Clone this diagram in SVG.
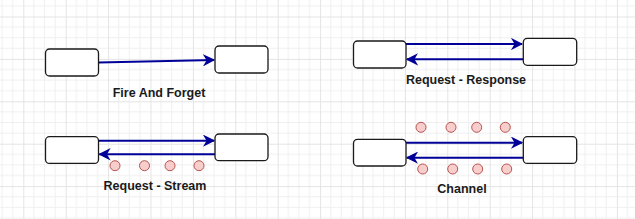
<svg xmlns="http://www.w3.org/2000/svg" width="635" height="219" viewBox="0 0 635 219">
<style>
.box{fill:#fff;stroke:#1a1a1a;stroke-width:1.3}
.ar{stroke:#000099;stroke-width:2;fill:none}
.dot{fill:#f8cecc;stroke:#b85450;stroke-width:1}
.lbl{font-family:"Liberation Sans",Arial,sans-serif;font-size:12.5px;font-weight:bold;fill:#1a1a1a;text-anchor:middle}
</style>
<defs>
<pattern id="grid" patternUnits="userSpaceOnUse" x="23.3" y="16.5" width="42.4" height="42.4">
<path d="M10.6 0V42.4M21.2 0V42.4M31.8 0V42.4M0 10.6H42.4M0 21.2H42.4M0 31.8H42.4" stroke="#f0f0f0" stroke-width="1" fill="none"/>
<path d="M0.5 0V42.4M0 0.5H42.4" stroke="#e4e4e4" stroke-width="1" fill="none"/>
</pattern>
<marker id="ah" viewBox="0 0 10 10" refX="9" refY="5" markerWidth="6.2" markerHeight="6.2" orient="auto" markerUnits="strokeWidth">
<path d="M0 0L10 5L0 10L3 5Z" fill="#000099"/>
</marker>
</defs>
<rect width="635" height="219" fill="#fff"/>
<rect width="635" height="219" fill="url(#grid)"/>

<g id="connectors">
<line class="ar" x1="98.5" y1="62.5" x2="214" y2="60" marker-end="url(#ah)"/>
<line class="ar" x1="406" y1="44" x2="522" y2="44" marker-end="url(#ah)"/>
<line class="ar" x1="523" y1="59.3" x2="407" y2="59.3" marker-end="url(#ah)"/>
<line class="ar" x1="98.5" y1="140.7" x2="214" y2="140.7" marker-end="url(#ah)"/>
<line class="ar" x1="215" y1="154.3" x2="99.5" y2="154.3" marker-end="url(#ah)"/>
<line class="ar" x1="406" y1="142.7" x2="522" y2="142.7" marker-end="url(#ah)"/>
<line class="ar" x1="523" y1="157.7" x2="407" y2="157.7" marker-end="url(#ah)"/>
</g>

<g id="ff-left"><rect class="box" x="45.5" y="49" width="53" height="27" rx="4"/></g>
<g id="ff-right"><rect class="box" x="215" y="46" width="53" height="27" rx="4"/></g>
<g id="ff-label"><text class="lbl" x="159" y="97">Fire And Forget</text></g>

<g id="rr-left"><rect class="box" x="353.5" y="41" width="52.5" height="27" rx="4"/></g>
<g id="rr-right"><rect class="box" x="523.3" y="38.3" width="53.4" height="27" rx="4"/></g>
<g id="rr-label"><text class="lbl" x="466" y="84">Request - Response</text></g>

<g id="rs-left"><rect class="box" x="45.5" y="136.7" width="53" height="26.7" rx="4"/></g>
<g id="rs-right"><rect class="box" x="215" y="134" width="53" height="26.7" rx="4"/></g>
<g id="rs-dots">
<circle class="dot" cx="115" cy="165.7" r="5"/>
<circle class="dot" cx="144.5" cy="165.7" r="5"/>
<circle class="dot" cx="170" cy="165.7" r="5"/>
<circle class="dot" cx="199" cy="165.7" r="5"/>
</g>
<g id="rs-label"><text class="lbl" x="155" y="190">Request - Stream</text></g>

<g id="ch-left"><rect class="box" x="353.5" y="139.3" width="52.5" height="26.7" rx="4"/></g>
<g id="ch-right"><rect class="box" x="523.3" y="136.7" width="53.4" height="26.7" rx="4"/></g>
<g id="ch-dots">
<circle class="dot" cx="421" cy="127.3" r="5"/>
<circle class="dot" cx="451" cy="127.3" r="5"/>
<circle class="dot" cx="476.7" cy="127.3" r="5"/>
<circle class="dot" cx="505.3" cy="127.3" r="5"/>
<circle class="dot" cx="422.7" cy="169" r="5"/>
<circle class="dot" cx="452.7" cy="169" r="5"/>
<circle class="dot" cx="477.7" cy="169" r="5"/>
<circle class="dot" cx="506.7" cy="169" r="5"/>
</g>
<g id="ch-label"><text class="lbl" x="462" y="193">Channel</text></g>
</svg>
